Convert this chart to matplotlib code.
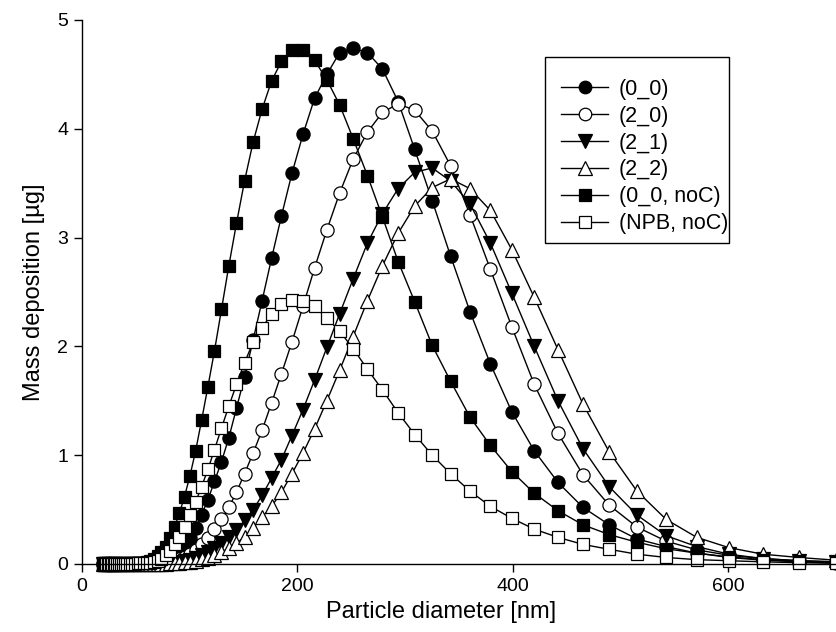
import matplotlib
matplotlib.use("Agg")
import matplotlib.pyplot as plt
from matplotlib.patches import Rectangle

plt.rcParams['font.family'] = ['Liberation Sans', 'DejaVu Sans']

# Particle diameter [nm]
diameter = [19.5, 20.5, 21.6, 22.7, 23.9, 25.2, 26.5, 27.9, 29.4, 30.9,
            32.5, 34.2, 36.0, 37.9, 39.9, 42.0, 44.2, 46.5, 49.0, 51.6,
            54.3, 57.1, 60.1, 63.3, 66.6, 70.1, 73.8, 77.6, 81.7, 86.0,
            90.5, 95.2, 100.2, 105.5, 111.0, 116.9, 123.0, 129.5, 136.3, 143.4,
            150.9, 158.9, 167.2, 176.0, 185.2, 194.9, 205.2, 215.9, 227.3, 239.2,
            251.7, 265.0, 278.9, 293.5, 308.9, 325.1, 342.2, 360.2, 379.1, 399.0,
            419.9, 441.9, 465.1, 489.5, 515.2, 542.3, 570.7, 600.7, 632.2, 665.4,
            700.0]

s_0_0 = [0.0, 0.0, 0.0, 0.0, 0.0, 0.001, 0.001, 0.001, 0.001, 0.001,
         0.001, 0.001, 0.001, 0.001, 0.002, 0.002, 0.002, 0.002, 0.002, 0.003,
         0.003, 0.004, 0.006, 0.008, 0.010, 0.014, 0.022, 0.035, 0.055, 0.08,
         0.12, 0.17, 0.24, 0.33, 0.45, 0.59, 0.76, 0.94, 1.16, 1.43,
         1.72, 2.06, 2.42, 2.81, 3.20, 3.59, 3.95, 4.28, 4.50, 4.70,
         4.74, 4.70, 4.55, 4.25, 3.81, 3.34, 2.83, 2.32, 1.84, 1.40,
         1.04, 0.75, 0.52, 0.36, 0.23, 0.16, 0.10, 0.06, 0.035, 0.02,
         0.012]

s_2_0 = [0.0, 0.0, 0.0, 0.0, 0.0, 0.0, 0.0, 0.0, 0.0, 0.0,
         0.0, 0.0, 0.0, 0.001, 0.001, 0.001, 0.001, 0.001, 0.001, 0.001,
         0.002, 0.002, 0.003, 0.004, 0.005, 0.007, 0.010, 0.014, 0.02, 0.03,
         0.045, 0.065, 0.09, 0.13, 0.18, 0.24, 0.32, 0.41, 0.52, 0.66,
         0.83, 1.02, 1.23, 1.48, 1.75, 2.04, 2.37, 2.72, 3.07, 3.41,
         3.72, 3.97, 4.15, 4.23, 4.17, 3.98, 3.66, 3.21, 2.71, 2.18,
         1.65, 1.20, 0.82, 0.54, 0.34, 0.21, 0.13, 0.08, 0.05, 0.03,
         0.02]

s_2_1 = [0.0, 0.0, 0.0, 0.0, 0.0, 0.0, 0.0, 0.0, 0.0, 0.0,
         0.0, 0.0, 0.0, 0.0, 0.0, 0.0, 0.001, 0.001, 0.001, 0.001,
         0.001, 0.001, 0.002, 0.002, 0.003, 0.004, 0.005, 0.006, 0.009, 0.013,
         0.019, 0.028, 0.04, 0.058, 0.08, 0.11, 0.145, 0.19, 0.245, 0.31,
         0.40, 0.50, 0.63, 0.79, 0.96, 1.18, 1.42, 1.69, 1.99, 2.30,
         2.62, 2.95, 3.22, 3.45, 3.60, 3.64, 3.52, 3.31, 2.95, 2.49,
         2.00, 1.50, 1.06, 0.71, 0.45, 0.26, 0.16, 0.09, 0.05, 0.03,
         0.02]

s_2_2 = [0.0, 0.0, 0.0, 0.0, 0.0, 0.0, 0.0, 0.0, 0.0, 0.0,
         0.0, 0.0, 0.0, 0.0, 0.0, 0.0, 0.0, 0.0, 0.0, 0.001,
         0.001, 0.001, 0.001, 0.001, 0.002, 0.002, 0.003, 0.004, 0.005, 0.007,
         0.010, 0.014, 0.02, 0.03, 0.042, 0.058, 0.08, 0.11, 0.145, 0.19,
         0.25, 0.33, 0.43, 0.53, 0.66, 0.83, 1.02, 1.24, 1.50, 1.78,
         2.09, 2.42, 2.74, 3.04, 3.29, 3.46, 3.54, 3.45, 3.25, 2.89,
         2.45, 1.97, 1.47, 1.03, 0.67, 0.41, 0.245, 0.15, 0.09, 0.06,
         0.035]

s_0_0_noC = [0.0, 0.0, 0.0, 0.001, 0.001, 0.001, 0.001, 0.001, 0.001, 0.002,
             0.002, 0.002, 0.002, 0.003, 0.003, 0.004, 0.004, 0.005, 0.006, 0.007,
             0.008, 0.012, 0.02, 0.03, 0.045, 0.07, 0.11, 0.16, 0.24, 0.34,
             0.47, 0.62, 0.81, 1.04, 1.32, 1.63, 1.96, 2.34, 2.74, 3.13,
             3.52, 3.88, 4.18, 4.44, 4.62, 4.72, 4.72, 4.63, 4.45, 4.22,
             3.91, 3.57, 3.19, 2.78, 2.41, 2.01, 1.68, 1.35, 1.09, 0.85,
             0.65, 0.49, 0.36, 0.27, 0.20, 0.14, 0.10, 0.065, 0.04, 0.025,
             0.015]

s_NPB_noC = [0.0, 0.0, 0.0, 0.0, 0.0, 0.001, 0.001, 0.001, 0.001, 0.001,
             0.001, 0.001, 0.002, 0.002, 0.002, 0.002, 0.003, 0.003, 0.004, 0.005,
             0.006, 0.008, 0.010, 0.012, 0.02, 0.03, 0.05, 0.08, 0.12, 0.18,
             0.25, 0.34, 0.45, 0.57, 0.71, 0.87, 1.05, 1.25, 1.45, 1.65,
             1.85, 2.04, 2.17, 2.30, 2.39, 2.43, 2.42, 2.37, 2.26, 2.14,
             1.98, 1.79, 1.60, 1.39, 1.19, 1.00, 0.83, 0.67, 0.53, 0.42,
             0.32, 0.245, 0.18, 0.135, 0.09, 0.06, 0.04, 0.03, 0.02, 0.012,
             0.006]

labels = ['(0_0)', '(2_0)', '(2_1)', '(2_2)', '(0_0, noC)', '(NPB, noC)']
series = [s_0_0, s_2_0, s_2_1, s_2_2, s_0_0_noC, s_NPB_noC]
markers = ['o', 'o', 'v', '^', 's', 's']
faces = ['black', 'white', 'black', 'white', 'black', 'white']
sizes = [9.5, 9.5, 10, 10, 8.5, 8.5]

W, H = 836, 632
fig = plt.figure(figsize=(W / 100, H / 100), dpi=100)
ax = fig.add_axes([82 / W, 1 - 564 / H, 1 - 82 / W, (564 - 20) / H])

for y, lab, m, fc, ms in zip(series, labels, markers, faces, sizes):
    ax.plot(diameter, y, color='black', linewidth=1.0, marker=m,
            markerfacecolor=fc, markeredgecolor='black', markeredgewidth=0.9,
            markersize=ms, label=lab, clip_on=False)

ax.set_xlim(0, 700)
ax.set_ylim(0, 5)
ax.set_xticks([0, 200, 400, 600])
ax.set_yticks([0, 1, 2, 3, 4, 5])
ax.spines['top'].set_visible(False)
ax.spines['right'].set_visible(False)
ax.spines['left'].set_linewidth(1.0)
ax.spines['bottom'].set_linewidth(1.0)
ax.tick_params(direction='out', length=6, width=1.0, labelsize=14, pad=4)
ax.set_xlabel('Particle diameter [nm]', fontsize=17)
ax.xaxis.set_label_coords((441 - 82) / (836 - 82), -0.068)
ax.set_ylabel('Mass deposition [µg]', fontsize=17, labelpad=9)

# legend frame drawn as a plain rectangle
fig.patches.append(Rectangle((545 / W, 1 - 243 / H), (729 - 545) / W, (243 - 57) / H,
                             transform=fig.transFigure, fill=False,
                             edgecolor='black', linewidth=1.0, zorder=5))
leg = ax.legend(loc='upper left', bbox_to_anchor=(561 / W, 1 - 79 / H),
                bbox_transform=fig.transFigure, fontsize=15.5, frameon=False,
                handlelength=2.2, handletextpad=0.5, labelspacing=0.27,
                borderpad=0.0, borderaxespad=0.0, markerscale=0.95)

fig.savefig('out.png', dpi=100)
